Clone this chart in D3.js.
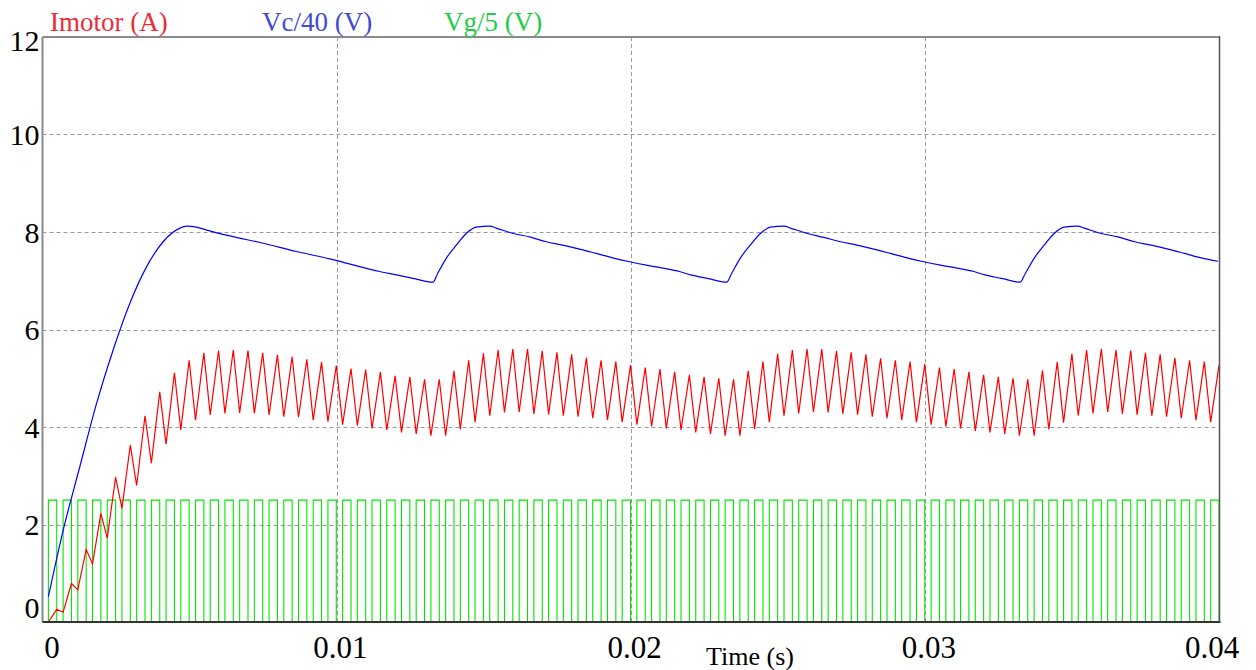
<!DOCTYPE html>
<html>
<head>
<meta charset="utf-8">
<script src="https://cdn.jsdelivr.net/npm/d3@7"></script>
<style>
  html, body { margin: 0; padding: 0; background: #ffffff; }
  svg { display: block; }
  text { font-family: "Liberation Serif", "Times New Roman", serif; }
</style>
</head>
<body>
<svg id="chart" width="1256" height="670"></svg>
<script>
// ---- axis ticks ----
const xTicks = [0, 10, 20, 30, 40];                 // ms
const xTickLabels = ["0", "0.01", "0.02", "0.03", "0.04"];
const yTicks = [0, 2, 4, 6, 8, 10, 12];
const yTickLabels = ["0", "2", "4", "6", "8", "10", "12"];

// ---- series names ----
const seriesNames = ["Imotor (A)", "Vc/40 (V)", "Vg/5 (V)"];
const seriesColors = ["#ff0000", "#0000ff", "#00e600"];
const legendColors = ["#ee2a35", "#3c4bd2", "#22cc44"];

// ---- gate signal Vg/5: switching instants (ms) and levels ----
const gateRiseMs = [
  0.2, 0.7, 1.2, 1.7, 2.2, 2.7, 3.2, 3.7, 4.2, 4.7,
  5.2, 5.7, 6.2, 6.7, 7.2, 7.7, 8.2, 8.7, 9.2, 9.7,
  10.2, 10.7, 11.2, 11.7, 12.2, 12.7, 13.2, 13.7, 14.2, 14.7,
  15.2, 15.7, 16.2, 16.7, 17.2, 17.7, 18.2, 18.7, 19.2, 19.7,
  20.2, 20.7, 21.2, 21.7, 22.2, 22.7, 23.2, 23.7, 24.2, 24.7,
  25.2, 25.7, 26.2, 26.7, 27.2, 27.7, 28.2, 28.7, 29.2, 29.7,
  30.2, 30.7, 31.2, 31.7, 32.2, 32.7, 33.2, 33.7, 34.2, 34.7,
  35.2, 35.7, 36.2, 36.7, 37.2, 37.7, 38.2, 38.7, 39.2, 39.7
];
const gateFallMs = [
  0.484, 0.984, 1.484, 1.984, 2.484, 2.984, 3.484, 3.984, 4.484, 4.984,
  5.484, 5.984, 6.484, 6.984, 7.484, 7.984, 8.484, 8.984, 9.484, 9.984,
  10.484, 10.984, 11.484, 11.984, 12.484, 12.984, 13.484, 13.984, 14.484, 14.984,
  15.484, 15.984, 16.484, 16.984, 17.484, 17.984, 18.484, 18.984, 19.484, 19.984,
  20.484, 20.984, 21.484, 21.984, 22.484, 22.984, 23.484, 23.984, 24.484, 24.984,
  25.484, 25.984, 26.484, 26.984, 27.484, 27.984, 28.484, 28.984, 29.484, 29.984,
  30.484, 30.984, 31.484, 31.984, 32.484, 32.984, 33.484, 33.984, 34.484, 34.984,
  35.484, 35.984, 36.484, 36.984, 37.484, 37.984, 38.484, 38.984, 39.484, 39.984
];
const gateLow = 0;
const gateHigh = 2.5;

// ---- motor current: value at each turn-on (valley) and turn-off (peak) ----
const currentValley = [
  0.00, 0.20, 0.66, 1.19, 1.72, 2.33, 2.80, 3.26, 3.65, 3.94,
  4.14, 4.25, 4.28, 4.29, 4.28, 4.25, 4.21, 4.20, 4.14, 4.11,
  4.05, 4.03, 3.97, 3.94, 3.89, 3.86, 3.82, 3.82, 3.95, 4.10,
  4.23, 4.30, 4.31, 4.27, 4.26, 4.23, 4.21, 4.18, 4.14, 4.10,
  4.05, 4.01, 3.97, 3.94, 3.89, 3.86, 3.82, 3.82, 3.96, 4.10,
  4.23, 4.28, 4.31, 4.30, 4.27, 4.25, 4.21, 4.18, 4.14, 4.10,
  4.05, 4.01, 3.97, 3.92, 3.89, 3.86, 3.82, 3.82, 3.95, 4.09,
  4.23, 4.28, 4.31, 4.27, 4.25, 4.23, 4.21, 4.18, 4.14, 4.10
];
const currentPeak = [
  0.26, 0.79, 1.49, 2.23, 2.97, 3.63, 4.23, 4.72, 5.11, 5.37,
  5.52, 5.57, 5.58, 5.57, 5.52, 5.48, 5.44, 5.39, 5.33, 5.26,
  5.20, 5.18, 5.13, 5.05, 5.03, 4.98, 4.98, 5.15, 5.37, 5.51,
  5.58, 5.60, 5.60, 5.56, 5.53, 5.49, 5.42, 5.37, 5.34, 5.27,
  5.22, 5.19, 5.13, 5.07, 5.03, 5.00, 4.98, 5.15, 5.34, 5.50,
  5.58, 5.60, 5.60, 5.56, 5.53, 5.49, 5.41, 5.37, 5.34, 5.29,
  5.22, 5.19, 5.13, 5.07, 5.03, 5.00, 4.98, 5.16, 5.33, 5.50,
  5.58, 5.60, 5.58, 5.57, 5.52, 5.49, 5.42, 5.37, 5.34, 5.27
];

// ---- capacitor voltage Vc/40 ----
const vcTimeMs = [
  0.20, 0.71, 1.27, 1.84, 2.40, 2.97, 3.54, 4.10, 4.67, 4.90,
  5.24, 5.58, 6.37, 7.50, 8.63, 9.76, 11.46, 12.03, 12.59, 13.27,
  13.43, 13.72, 14.06, 14.40, 14.74, 15.20, 15.42, 15.99, 16.55, 17.12,
  17.68, 18.25, 18.82, 19.38, 19.95, 20.52, 21.08, 21.65, 22.03, 22.59,
  23.25, 23.42, 23.71, 24.05, 24.40, 24.74, 25.20, 25.42, 26.00, 26.55,
  27.12, 27.68, 28.25, 28.82, 29.38, 29.95, 30.52, 31.08, 31.65, 32.03,
  32.59, 33.22, 33.40, 33.70, 34.04, 34.38, 34.72, 35.18, 35.40, 35.98,
  36.55, 37.12, 37.68, 38.25, 38.82, 39.38, 39.95
];
const vcValue = [
  0.52, 1.90, 3.19, 4.49, 5.58, 6.54, 7.29, 7.80, 8.08, 8.12,
  8.10, 8.04, 7.92, 7.77, 7.60, 7.45, 7.19, 7.12, 7.05, 6.97,
  7.15, 7.46, 7.73, 7.97, 8.10, 8.12, 8.08, 7.97, 7.90, 7.80,
  7.73, 7.65, 7.56, 7.47, 7.39, 7.32, 7.26, 7.19, 7.12, 7.05,
  6.97, 7.15, 7.46, 7.73, 7.97, 8.10, 8.12, 8.08, 7.97, 7.89,
  7.80, 7.73, 7.65, 7.56, 7.47, 7.39, 7.32, 7.26, 7.19, 7.12,
  7.05, 6.97, 7.15, 7.46, 7.73, 7.97, 8.10, 8.12, 8.08, 7.97,
  7.90, 7.80, 7.73, 7.65, 7.56, 7.47, 7.40
];

// ---- build point lists ----
const gatePoints = [];
gateRiseMs.forEach((tr, i) => {
  const tf = gateFallMs[i];
  gatePoints.push([tr, gateLow], [tr, gateHigh], [tf, gateHigh], [tf, gateLow]);
});
const currentPoints = [];
gateRiseMs.forEach((tr, i) => {
  currentPoints.push([tr, currentValley[i]], [gateFallMs[i], currentPeak[i]]);
});
const vcPoints = vcTimeMs.map((t, i) => [t, vcValue[i]]);

// ---- layout ----
const svg = d3.select("#chart");
const plotLeft = 42.5, plotRight = 1219.5, plotTop = 37, plotBottom = 622;

const x = d3.scaleLinear().domain([0, 40]).range([plotLeft, plotRight]);
const y = d3.scaleLinear().domain([0, 12]).range([plotBottom, plotTop]);

svg.append("defs").append("clipPath").attr("id", "plotClip")
  .append("rect").attr("x", plotLeft).attr("y", plotTop - 1)
  .attr("width", plotRight - plotLeft).attr("height", plotBottom - plotTop + 1);

// dashed grid
const grid = svg.append("g").attr("stroke", "#9a9a9a").attr("stroke-width", 1)
  .attr("stroke-dasharray", "4,3").attr("fill", "none");
yTicks.filter(v => v > 0 && v < 12).forEach(v => {
  grid.append("line").attr("x1", plotLeft).attr("x2", plotRight)
    .attr("y1", Math.round(y(v)) + 0.5).attr("y2", Math.round(y(v)) + 0.5);
});
xTicks.filter(v => v > 0 && v < 40).forEach(v => {
  grid.append("line").attr("y1", plotTop).attr("y2", plotBottom)
    .attr("x1", Math.round(x(v)) + 0.5).attr("x2", Math.round(x(v)) + 0.5);
});

// waveforms
const plot = svg.append("g").attr("clip-path", "url(#plotClip)");
const straight = d3.line().x(d => x(d[0])).y(d => y(d[1]));
const smooth = d3.line().x(d => x(d[0])).y(d => y(d[1])).curve(d3.curveMonotoneX);

plot.append("path").datum(gatePoints).attr("d", straight)
  .attr("fill", "none").attr("stroke", seriesColors[2]).attr("stroke-width", 1.1);
plot.append("path").datum(vcPoints).attr("d", smooth)
  .attr("fill", "none").attr("stroke", seriesColors[1]).attr("stroke-width", 1.2);
plot.append("path").datum(currentPoints).attr("d", straight)
  .attr("fill", "none").attr("stroke", seriesColors[0]).attr("stroke-width", 1.2);

// frame
svg.append("line").attr("x1", plotLeft).attr("x2", plotRight).attr("y1", plotTop).attr("y2", plotTop)
  .attr("stroke", "#8a8a8a").attr("stroke-width", 2);
svg.append("line").attr("x1", plotLeft).attr("x2", plotLeft).attr("y1", plotTop).attr("y2", plotBottom)
  .attr("stroke", "#8a8a8a").attr("stroke-width", 2);
svg.append("line").attr("x1", plotLeft).attr("x2", plotRight + 1).attr("y1", plotBottom).attr("y2", plotBottom)
  .attr("stroke", "#333333").attr("stroke-width", 2);
svg.append("line").attr("x1", plotRight).attr("x2", plotRight).attr("y1", plotTop - 1).attr("y2", plotBottom)
  .attr("stroke", "#555555").attr("stroke-width", 1.5);

// y axis labels
const yAxis = d3.axisLeft(y).tickValues(yTicks).tickSize(0).tickPadding(3)
  .tickFormat((d, i) => yTickLabels[i]);
const gy = svg.append("g").attr("transform", `translate(${plotLeft},0)`).call(yAxis);
gy.select(".domain").remove();
gy.selectAll("text").attr("font-family", "Liberation Serif, serif")
  .attr("font-size", 30).attr("fill", "#000")
  .attr("dy", d => d === 0 ? "-0.14em" : d === 12 ? "0.45em" : "0.34em");

// x axis labels
const xAxis = d3.axisBottom(x).tickValues(xTicks).tickSize(0).tickPadding(14)
  .tickFormat((d, i) => xTickLabels[i]);
const gx = svg.append("g").attr("transform", `translate(0,${plotBottom})`).call(xAxis);
gx.select(".domain").remove();
gx.selectAll("text").attr("font-family", "Liberation Serif, serif")
  .attr("font-size", 31).attr("fill", "#000")
  .attr("dx", d => d === 0 ? 9 : d === 40 ? -8 : 3);

svg.append("text").attr("x", 750).attr("y", 665).attr("text-anchor", "middle")
  .attr("font-size", 26).attr("fill", "#000").text("Time (s)");

// legend captions
const legendX = [50, 262, 444];
seriesNames.forEach((name, i) => {
  svg.append("text").attr("x", legendX[i]).attr("y", 31)
    .attr("font-size", 27).attr("fill", legendColors[i]).text(name);
});
</script>
</body>
</html>
